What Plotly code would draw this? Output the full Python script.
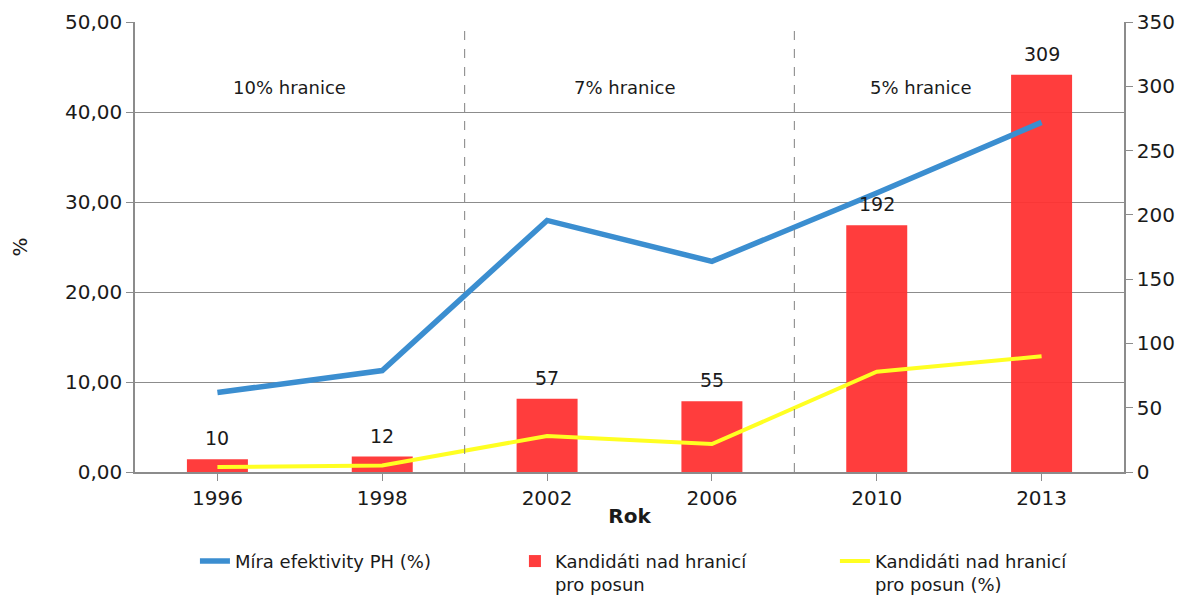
import plotly.graph_objects as go

years = ["1996", "1998", "2002", "2006", "2010", "2013"]
efektivita = [8.83, 11.27, 27.95, 23.4, 31.0, 38.85]
kandidati = [10, 12, 57, 55, 192, 309]
kandidati_pct = [0.55, 0.72, 4.0, 3.1, 11.15, 12.85]
hranice_labels = ["10% hranice", "7% hranice", "5% hranice"]
hranice_x = [0.44, 2.47, 4.27]
dividers = [1.5, 3.5]

FONT = "DejaVu Sans, Arial, sans-serif"
GRID = "#8c8c8c"
TXT = "#1a1a1a"

fig = go.Figure()
fig.add_trace(go.Bar(
    x=years, y=kandidati, name="Kandidáti nad hranicí<br>pro posun",
    marker=dict(color="rgb(255,51,51)", line=dict(width=0)), opacity=0.95,
    yaxis="y", width=0.37,
))
fig.add_trace(go.Scatter(
    x=years, y=efektivita, name="Míra efektivity PH (%)", mode="lines",
    line=dict(color="#3b8ed0", width=5.5), yaxis="y2",
))
fig.add_trace(go.Scatter(
    x=years, y=kandidati_pct, name="Kandidáti nad hranicí<br>pro posun (%)", mode="lines",
    line=dict(color="#ffff22", width=4), yaxis="y2",
))

for i, v in enumerate(kandidati):
    fig.add_annotation(x=i, y=v, xref="x", yref="y", text=str(v), showarrow=False,
                       yshift=21, font=dict(family=FONT, size=19, color=TXT))

for t, xv in zip(hranice_labels, hranice_x):
    fig.add_annotation(x=xv, y=0.882, xref="x", yref="paper", text=t, showarrow=False,
                       font=dict(family=FONT, size=18, color=TXT))

for d in dividers:
    fig.add_shape(type="line", x0=d, x1=d, xref="x", y0=0, y1=1, yref="paper",
                  line=dict(color="#808080", width=1, dash="dash"))

fig.update_layout(
    width=1172, height=591,
    margin=dict(l=127, r=56, t=14, b=127, autoexpand=False),
    paper_bgcolor="white", plot_bgcolor="white",
    separators=", ",
    font=dict(family=FONT, size=18, color=TXT),
    showlegend=True,
    legend=dict(orientation="h", xref="container", yref="container",
                x=0.1595, xanchor="left", y=0.095, yanchor="top",
                traceorder="normal", entrywidth=275, valign="top",
                font=dict(family=FONT, size=18, color=TXT)),
    xaxis=dict(
        type="category", showgrid=False, showline=True, linecolor=GRID, linewidth=1.5,
        ticks="outside", ticklen=7, tickcolor=GRID,
        title=dict(text="<b>Rok</b>", standoff=0, font=dict(family=FONT, size=20)),
        tickfont=dict(family=FONT, size=20), range=[-0.5, 5.5],
    ),
    yaxis=dict(
        side="right", range=[0, 350], dtick=50, showgrid=False, showline=True,
        linecolor=GRID, linewidth=1.5, ticks="outside", ticklen=7, tickcolor=GRID,
        tickfont=dict(family=FONT, size=20), zeroline=False,
    ),
    yaxis2=dict(
        side="left", overlaying="y", range=[0, 50], dtick=10, tickformat=".2f",
        showgrid=True, gridcolor=GRID, gridwidth=1.3, showline=True, linecolor=GRID,
        linewidth=1.5, ticks="outside", ticklen=7, tickcolor=GRID, zeroline=False,
        tickfont=dict(family=FONT, size=20),
        title=dict(text="%", standoff=40, font=dict(family=FONT, size=20)),
    ),
)

# legend order: blue line, red bars, yellow line
fig.data[1].legendrank = 1
fig.data[0].legendrank = 2
fig.data[2].legendrank = 3

fig.write_html("out.html")
